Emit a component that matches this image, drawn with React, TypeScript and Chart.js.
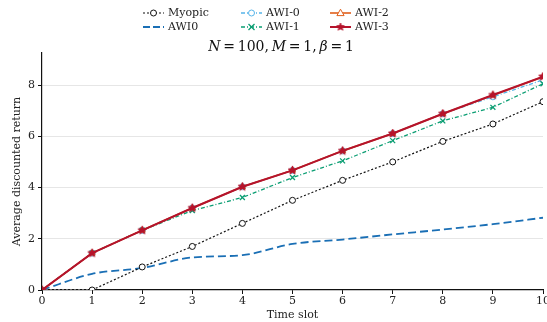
import React, { useEffect, useRef } from "react";
import { Chart, registerables } from "chart.js";

Chart.register(...registerables);

const timeSlots = [0, 1, 2, 3, 4, 5, 6, 7, 8, 9, 10];
const myopic = [0, 0, 0.9, 1.7, 2.6, 3.5, 4.28, 5.0, 5.8, 6.48, 7.35];
const awi0Base = [0, 0.63, 0.86, 1.27, 1.36, 1.8, 1.97, 2.17, 2.36, 2.57, 2.82];
const awiZero = [0, 1.44, 2.33, 3.2, 4.03, 4.67, 5.43, 6.11, 6.88, 7.54, 8.2];
const awiOne = [0, 1.44, 2.33, 3.1, 3.61, 4.39, 5.04, 5.83, 6.6, 7.13, 8.05];
const awiTwo = [0, 1.44, 2.33, 3.2, 4.03, 4.67, 5.43, 6.11, 6.88, 7.6, 8.32];
const awiThree = [0, 1.44, 2.33, 3.2, 4.03, 4.67, 5.43, 6.11, 6.88, 7.61, 8.33];
const yTicks = [0, 2, 4, 6, 8];

const FONT = "'DejaVu Serif', serif";

function starCanvas(color: string, r: number) {
  const c = document.createElement("canvas");
  const s = Math.ceil(r * 2 + 2);
  c.width = s;
  c.height = s;
  const g = c.getContext("2d")!;
  g.fillStyle = color;
  g.strokeStyle = color;
  g.lineWidth = 0.8;
  g.beginPath();
  for (let i = 0; i < 10; i++) {
    const rr = i % 2 === 0 ? r : r * 0.45;
    const a = -Math.PI / 2 + (i * Math.PI) / 5;
    const x = s / 2 + rr * Math.cos(a);
    const y = s / 2 + rr * Math.sin(a);
    if (i === 0) g.moveTo(x, y);
    else g.lineTo(x, y);
  }
  g.closePath();
  g.fill();
  g.stroke();
  return c;
}

const pts = (arr: number[]) => arr.map((y, i) => ({ x: timeSlots[i], y }));

type LegendItem = {
  label: string;
  color: string;
  dash: number[];
  width: number;
  marker: string;
  fill?: string;
};

const legendItems: LegendItem[][] = [
  [
    { label: "Myopic", color: "#111111", dash: [2, 2], width: 1.2, marker: "circle", fill: "#ffffff" },
    { label: "AWI0", color: "#1a6fb5", dash: [7, 3], width: 1.8, marker: "none" },
  ],
  [
    { label: "AWI-0", color: "#56b4e9", dash: [4, 2, 1, 2], width: 1.3, marker: "circle", fill: "#ffffff" },
    { label: "AWI-1", color: "#0b9e73", dash: [4, 2, 1, 2], width: 1.3, marker: "cross" },
  ],
  [
    { label: "AWI-2", color: "#e0601c", dash: [], width: 1.6, marker: "triangle", fill: "#ffffff" },
    { label: "AWI-3", color: "#b5132c", dash: [], width: 2, marker: "star" },
  ],
];

function drawMarker(g: CanvasRenderingContext2D, it: LegendItem, x: number, y: number) {
  g.save();
  g.setLineDash([]);
  g.strokeStyle = it.color;
  g.lineWidth = 1;
  if (it.marker === "circle") {
    g.fillStyle = it.fill || "#fff";
    g.beginPath();
    g.arc(x, y, 3, 0, Math.PI * 2);
    g.fill();
    g.stroke();
  } else if (it.marker === "cross") {
    g.lineWidth = 1.3;
    g.beginPath();
    g.moveTo(x - 3, y - 3);
    g.lineTo(x + 3, y + 3);
    g.moveTo(x + 3, y - 3);
    g.lineTo(x - 3, y + 3);
    g.stroke();
  } else if (it.marker === "triangle") {
    g.fillStyle = "#fff";
    g.beginPath();
    g.moveTo(x, y - 3.8);
    g.lineTo(x + 3.6, y + 2.6);
    g.lineTo(x - 3.6, y + 2.6);
    g.closePath();
    g.fill();
    g.stroke();
  } else if (it.marker === "star") {
    const c = starCanvas(it.color, 4);
    g.drawImage(c, x - c.width / 2, y - c.height / 2);
  }
  g.restore();
}

const decorPlugin = {
  id: "decor",
  afterDraw(chart: any) {
    const g: CanvasRenderingContext2D = chart.ctx;
    g.save();
    // legend
    const colX = [143, 241, 330];
    const rowY = [13, 27];
    legendItems.forEach((col, ci) => {
      col.forEach((it, ri) => {
        const x0 = colX[ci];
        const y = rowY[ri];
        g.save();
        g.strokeStyle = it.color;
        g.lineWidth = it.width;
        g.setLineDash(it.dash);
        g.beginPath();
        g.moveTo(x0, y);
        g.lineTo(x0 + 21, y);
        g.stroke();
        g.restore();
        if (it.marker !== "none") drawMarker(g, it, x0 + 10.5, y);
        g.fillStyle = "#222";
        g.font = `11px ${FONT}`;
        g.textBaseline = "middle";
        g.textAlign = "left";
        g.fillText(it.label, x0 + 25, y + 0.5);
      });
    });
    // title
    const sp = "\u2009";
    const parts: [string, boolean][] = [
      ["N", true],
      [`${sp}=${sp}100,${sp}`, false],
      ["M", true],
      [`${sp}=${sp}1,${sp}`, false],
      ["β", true],
      [`${sp}=${sp}1`, false],
    ];
    const size = 14;
    let total = 0;
    const widths = parts.map(([t, it]) => {
      g.font = `${it ? "italic " : ""}${size}px ${FONT}`;
      const w = g.measureText(t).width;
      total += w;
      return w;
    });
    let x = 281 - total / 2;
    g.fillStyle = "#111";
    g.textBaseline = "middle";
    g.textAlign = "left";
    parts.forEach(([t, it], i) => {
      g.font = `${it ? "italic " : ""}${size}px ${FONT}`;
      g.fillText(t, x, 47);
      x += widths[i];
    });
    g.restore();
  },
};

export default function App() {
  const ref = useRef<HTMLCanvasElement>(null);
  useEffect(() => {
    if (!ref.current) return;
    const star = starCanvas("#b5132c", 4.5);
    const chart = new Chart(ref.current, {
      type: "line",
      data: {
        datasets: [
          {
            label: "AWI-3",
            data: pts(awiThree),
            borderColor: "#b5132c",
            backgroundColor: "#b5132c",
            borderWidth: 2,
            pointStyle: star as any,
            pointRadius: 4,
          },
          {
            label: "AWI-2",
            data: pts(awiTwo),
            borderColor: "#e0601c",
            backgroundColor: "#e0601c",
            borderWidth: 1.6,
            pointStyle: "triangle",
            pointRadius: 3.5,
            pointBorderWidth: 1,
          },
          {
            label: "AWI-1",
            data: pts(awiOne),
            borderColor: "#0b9e73",
            backgroundColor: "#0b9e73",
            borderWidth: 1.3,
            borderDash: [4, 2, 1, 2],
            pointStyle: "crossRot",
            pointRadius: 3.5,
            pointBorderWidth: 1.3,
          },
          {
            label: "AWI-0",
            data: pts(awiZero),
            borderColor: "#56b4e9",
            backgroundColor: "#ffffff",
            borderWidth: 1.3,
            borderDash: [4, 2, 1, 2],
            pointStyle: "circle",
            pointRadius: 3,
            pointBorderWidth: 1,
          },
          {
            label: "Myopic",
            data: pts(myopic),
            borderColor: "#111111",
            backgroundColor: "#ffffff",
            borderWidth: 1.2,
            borderDash: [2, 2],
            pointStyle: "circle",
            pointRadius: 3,
            pointBorderWidth: 1,
            segment: {
              borderColor: (c: any) => (c.p1DataIndex === 1 ? "#aaaaaa" : "#111111"),
            },
          },
          {
            label: "AWI0",
            data: pts(awi0Base),
            borderColor: "#1a6fb5",
            backgroundColor: "#1a6fb5",
            borderWidth: 1.8,
            borderDash: [8, 4],
            pointRadius: 0,
            cubicInterpolationMode: "monotone",
          },
        ],
      },
      options: {
        animation: false,
        responsive: false,
        devicePixelRatio: 1,
        layout: { autoPadding: false, padding: { top: 53, right: 4, left: 0, bottom: 0 } },
        plugins: {
          legend: { display: false },
          title: { display: false },
          tooltip: { enabled: false },
        },
        scales: {
          x: {
            type: "linear",
            min: 0,
            max: 10,
            afterFit: (s: any) => {
              s.height = 32;
              s.paddingRight = 0;
              s.paddingLeft = 0;
            },
            ticks: {
              stepSize: 1,
              color: "#222",
              font: { family: FONT, size: 11 },
              padding: 1,
            },
            grid: {
              drawOnChartArea: false,
              tickLength: 4,
              tickColor: "#111",
            },
            border: { color: "#111", width: 1.2 },
            title: {
              display: true,
              text: "Time slot",
              color: "#222",
              font: { family: FONT, size: 11 },
              padding: { top: 0, bottom: 0 },
            },
          },
          y: {
            type: "linear",
            min: 0,
            max: 9.25,
            afterFit: (s: any) => {
              s.width = 42;
              s.paddingTop = 0;
              s.paddingBottom = 0;
            },
            afterBuildTicks: (s: any) => {
              s.ticks = yTicks.map((v) => ({ value: v }));
            },
            ticks: {
              color: "#222",
              font: { family: FONT, size: 11 },
              padding: 3,
            },
            grid: {
              color: (c: any) => (c.tick && c.tick.value === 0 ? "rgba(0,0,0,0)" : "#e6e6e6"),
              tickColor: "#111",
              tickLength: 4,
              lineWidth: 1,
            },
            border: { color: "#111", width: 1.2 },
            title: {
              display: true,
              text: "Average discounted return",
              color: "#222",
              font: { family: FONT, size: 11 },
              padding: { top: 11, bottom: 2 },
            },
          },
        },
      },
      plugins: [decorPlugin],
    });
    return () => chart.destroy();
  }, []);
  return (
    <div style={{ position: "fixed", left: 0, top: 0, width: 547, height: 322, background: "#fff" }}>
      <canvas ref={ref} width={547} height={322} style={{ display: "block" }} />
    </div>
  );
}
